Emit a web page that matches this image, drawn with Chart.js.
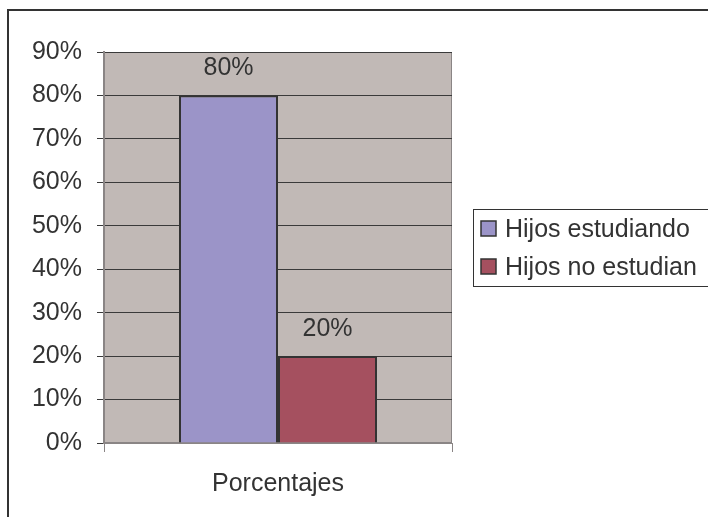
<!DOCTYPE html>
<html>
<head>
<meta charset="utf-8">
<script src="https://cdn.jsdelivr.net/npm/chart.js@4.4.1/dist/chart.umd.min.js"></script>
<style>
  html, body { margin: 0; padding: 0; background: #fff; }
  #wrap { width: 708px; height: 517px; }
</style>
</head>
<body>
<div id="wrap"><canvas id="grafico"></canvas></div>
<script>
const categorias = ['Porcentajes'];
const series = ['Hijos estudiando', 'Hijos no estudian'];
const estudiando = [80];
const noEstudian = [20];
const colores = ['#9B94C8', '#A5505F'];

Chart.defaults.font.family = 'Liberation Sans, Arial, sans-serif';
Chart.defaults.font.size = 25;
Chart.defaults.color = '#333333';

// fondo del area de graficos, borde exterior, etiquetas y leyenda
const adornos = {
    id: 'adornos',
    beforeDraw(chart) {
        const c = chart.ctx, a = chart.chartArea;
        c.save();
        c.fillStyle = '#C1B9B6';
        c.fillRect(a.left, a.top, a.right - a.left, a.bottom - a.top);
        c.strokeStyle = '#8a8585';
        c.lineWidth = 1;
        c.strokeRect(a.left + 0.5, a.top + 0.5, a.right - a.left - 1, a.bottom - a.top - 1);
        // borde exterior
        c.strokeStyle = '#333';
        c.lineWidth = 2;
        c.beginPath();
        c.moveTo(708, 10);
        c.lineTo(8, 10);
        c.lineTo(8, 517);
        c.stroke();
        c.restore();
    },
    afterDatasetsDraw(chart) {
        const c = chart.ctx;
        c.save();
        c.font = '25px Liberation Sans, Arial, sans-serif';
        c.fillStyle = '#333';
        c.textAlign = 'center';
        c.textBaseline = 'middle';
        chart.data.datasets.forEach((ds, i) => {
            chart.getDatasetMeta(i).data.forEach((bar, j) => {
                c.fillText(ds.data[j] + '%', bar.x, bar.y - 27);
            });
        });
        // leyenda
        c.strokeStyle = '#333';
        c.lineWidth = 1;
        c.strokeRect(473.5, 209.5, 240, 77);
        c.textAlign = 'left';
        chart.data.datasets.forEach((ds, i) => {
            const y = 229 + i * 38;
            c.fillStyle = ds.backgroundColor;
            c.fillRect(481, y - 8, 15, 15);
            c.strokeStyle = '#333';
            c.lineWidth = 1.5;
            c.strokeRect(481, y - 8, 15, 15);
            c.fillStyle = '#333';
            c.fillText(ds.label, 505, y + 1);
        });
        c.restore();
    }
};

new Chart(document.getElementById('grafico'), {
    type: 'bar',
    data: {
        labels: categorias,
        datasets: [{
            label: series[0],
            data: estudiando,
            backgroundColor: colores[0],
            borderColor: '#333',
            borderWidth: 2
        }, {
            label: series[1],
            data: noEstudian,
            backgroundColor: colores[1],
            borderColor: '#333',
            borderWidth: 2
        }]
    },
    options: {
        responsive: true,
        maintainAspectRatio: false,
        animation: false,
        layout: { padding: { top: 52, right: 256, left: 0, bottom: 0 } },
        datasets: { bar: { barPercentage: 1, categoryPercentage: 0.569 } },
        plugins: { legend: { display: false }, tooltip: { enabled: false } },
        scales: {
            x: {
                grid: { drawOnChartArea: false, drawTicks: true, tickLength: 9, color: '#8a8585', offset: true },
                border: { color: '#8a8585', width: 1 },
                ticks: { padding: 17, color: '#333' },
                afterFit(s) { s.height = 74; }
            },
            y: {
                min: 0,
                max: 90,
                grid: { color: '#3a3a3a', tickLength: 7, lineWidth: 1 },
                border: { color: '#8a8585', width: 2 },
                ticks: { stepSize: 10, padding: 15, color: '#333', callback: v => v + '%' },
                afterFit(s) { s.width = 104; }
            }
        }
    },
    plugins: [adornos]
});
</script>
</body>
</html>
